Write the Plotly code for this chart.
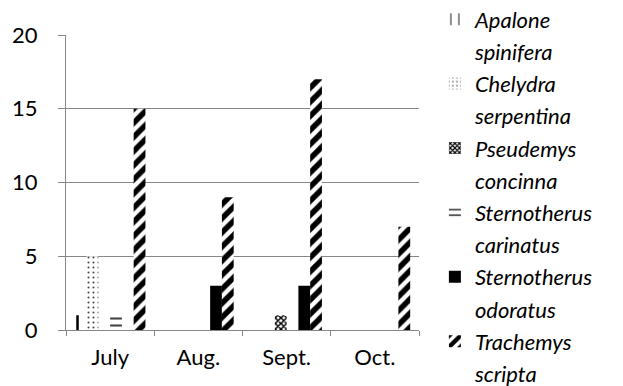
import plotly.graph_objects as go

months = ["July", "Aug.", "Sept.", "Oct."]
species_line1 = ["Apalone", "Chelydra", "Pseudemys", "Sternotherus", "Sternotherus", "Trachemys"]
species_line2 = ["spinifera", "serpentina", "concinna", "carinatus", "odoratus", "scripta"]

apalone_spinifera = [1, 0, 0, 0]
chelydra_serpentina = [5, 0, 0, 0]
pseudemys_concinna = [0, 0, 1, 0]
sternotherus_carinatus = [1, 0, 0, 0]
sternotherus_odoratus = [0, 3, 3, 0]
trachemys_scripta = [15, 9, 17, 7]

series = [apalone_spinifera, chelydra_serpentina, pseudemys_concinna,
          sternotherus_carinatus, sternotherus_odoratus, trachemys_scripta]

patterns = [
    dict(shape="|", size=23, solidity=0.11, fgcolor="black", bgcolor="white", fgopacity=1),
    dict(shape=".", size=5, solidity=0.13, fgcolor="#444444", bgcolor="white", fgopacity=1),
    dict(shape="x", size=4, solidity=0.6, fgcolor="black", bgcolor="white", fgopacity=1),
    dict(shape="-", size=7, solidity=0.3, fgcolor="#444444", bgcolor="white", fgopacity=1),
    dict(shape="", fgcolor="black", bgcolor="black"),
    dict(shape="/", size=10, solidity=0.55, fgcolor="black", bgcolor="white", fgopacity=1),
]
colors = ["white", "white", "white", "white", "black", "white"]

FONT = "Lato"
fig = go.Figure()
for i, vals in enumerate(series):
    fig.add_trace(go.Bar(
        x=months, y=vals, name=species_line1[i],
        legendgroup=f"g{2*i}",
        marker=dict(color=colors[i], line=dict(width=0), pattern=patterns[i]),
    ))
    fig.add_trace(go.Scatter(
        x=[None], y=[None], mode="lines", line=dict(width=0, color="rgba(0,0,0,0)"),
        name=species_line2[i], legendgroup=f"g{2*i+1}", hoverinfo="skip",
    ))

fig.update_layout(
    width=623, height=386,
    margin=dict(l=66, r=204, t=35, b=56, autoexpand=False),
    paper_bgcolor="white", plot_bgcolor="white",
    barmode="group", bargap=0.2, bargroupgap=0,
    font=dict(family=FONT, size=22, color="black"),
    legend=dict(
        x=1.045, y=1.124, xanchor="left", yanchor="top",
        font=dict(family=FONT, size=22, color="black", style="italic"),
        traceorder="grouped", tracegroupgap=0.6, maxheight=600,
        bgcolor="rgba(0,0,0,0)", itemclick=False,
    ),
    showlegend=True,
)
fig.update_xaxes(
    type="category", categoryorder="array", categoryarray=months,
    showline=True, linecolor="#868686", linewidth=1,
    ticks="outside", tickson="boundaries", ticklen=5, tickcolor="#868686",
    ticklabelstandoff=8,
    showgrid=False, tickfont=dict(family=FONT, size=22), automargin=False,
)
fig.update_yaxes(
    range=[0, 20], dtick=5, tick0=0,
    showline=True, linecolor="#868686", linewidth=1,
    ticks="outside", ticklen=7, tickcolor="#868686", ticklabelstandoff=16,
    showgrid=True, gridcolor="#868686", gridwidth=1, zeroline=False,
    tickfont=dict(family=FONT, size=22), automargin=False,
)
fig.write_html(
    "out.html",
    config={"displayModeBar": False},
    post_script="document.body.style.margin='0';document.body.style.overflow='hidden';",
)
